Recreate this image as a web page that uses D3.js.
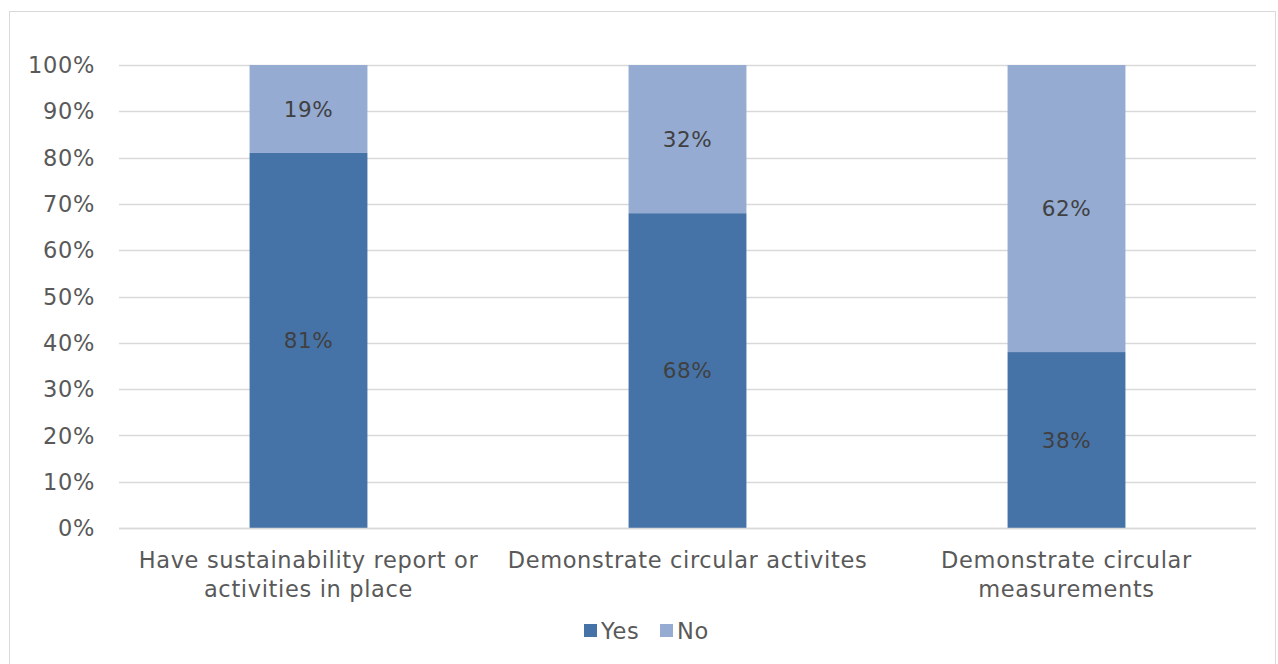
<!DOCTYPE html>
<html><head><meta charset="utf-8">
<script src="https://cdn.jsdelivr.net/npm/d3@7"></script>
<style>body{margin:0;background:#fff;} svg{display:block;}</style>
</head><body>
<svg id="c" width="1278" height="664"></svg>
<script>
const categoryKeys = ["Have sustainability report or activities in place", "Demonstrate circular activites", "Demonstrate circular measurements"];
const categoryLines = [["Have sustainability report or", "activities in place"], ["Demonstrate circular activites"], ["Demonstrate circular", "measurements"]];
const yesValues = [81, 68, 38];
const noValues = [19, 32, 62];
const seriesNames = ["Yes", "No"];
const yTicks = [0, 10, 20, 30, 40, 50, 60, 70, 80, 90, 100];

const colors = {Yes: "#4673a7", No: "#95abd2"};
const textColor = "#595959";
const font = "DejaVu Sans, Verdana, sans-serif";
const ls = "0.65px";

const svg = d3.select("#c");
svg.append("rect").attr("x", 9.5).attr("y", 11.5).attr("width", 1266).attr("height", 660)
  .attr("fill", "#fff").attr("stroke", "#d9d9d9").attr("stroke-width", 1);

const pL = 119, pR = 1256, pT = 65, pB = 528;
const x = d3.scaleBand().domain(categoryKeys).range([pL, pR]).paddingInner(0.689).paddingOuter(0.3445);
const y = d3.scaleLinear().domain([0, 100]).range([pB, pT]);

// gridlines
svg.append("g").selectAll("line").data(yTicks).join("line")
  .attr("x1", pL).attr("x2", pR)
  .attr("y1", d => Math.round(y(d)) + 0.5).attr("y2", d => Math.round(y(d)) + 0.5)
  .attr("stroke", "#d9d9d9").attr("stroke-width", 1.5);

// y axis
const yAxis = d3.axisLeft(y).tickValues(yTicks).tickFormat(d => d + "%").tickSize(0).tickPadding(24);
const ya = svg.append("g").attr("transform", `translate(${pL},0)`).call(yAxis);
ya.select(".domain").remove();
ya.selectAll("text").attr("fill", textColor).attr("font-family", font).attr("font-size", 22.5)
  .attr("letter-spacing", ls).attr("dy", "0.34em");

const data = categoryKeys.map((k, i) => ({key: k, Yes: yesValues[i], No: noValues[i]}));
const stack = d3.stack().keys(seriesNames)(data);

const g = svg.append("g");
stack.forEach(s => {
  g.append("g").selectAll("rect").data(s).join("rect")
    .attr("x", d => x(d.data.key)).attr("width", x.bandwidth())
    .attr("y", d => y(d[1])).attr("height", d => y(d[0]) - y(d[1]))
    .attr("fill", colors[s.key]);
  g.append("g").selectAll("text").data(s).join("text")
    .attr("x", d => x(d.data.key) + x.bandwidth() / 2)
    .attr("y", d => (y(d[0]) + y(d[1])) / 2)
    .attr("dy", "0.36em").attr("text-anchor", "middle")
    .attr("fill", "#404040").attr("font-family", font).attr("font-size", 21.5)
    .attr("letter-spacing", ls)
    .text(d => (d[1] - d[0]) + "%");
});

// x axis line
svg.append("line").attr("x1", pL).attr("x2", pR).attr("y1", pB + 0.5).attr("y2", pB + 0.5)
  .attr("stroke", "#d9d9d9").attr("stroke-width", 1.5);

// x labels
categoryKeys.forEach((k, i) => {
  const t = svg.append("text").attr("x", x(k) + x.bandwidth() / 2).attr("y", 568)
    .attr("text-anchor", "middle").attr("fill", textColor).attr("font-family", font).attr("font-size", 22.5)
    .attr("letter-spacing", ls);
  categoryLines[i].forEach((line, j) => {
    t.append("tspan").attr("x", x(k) + x.bandwidth() / 2).attr("dy", j === 0 ? 0 : 29).text(line);
  });
});

// legend
const lg = svg.append("g");
const legendItems = [{name: "Yes", x: 584}, {name: "No", x: 660}];
legendItems.forEach(it => {
  lg.append("rect").attr("x", it.x).attr("y", 624).attr("width", 13).attr("height", 13).attr("fill", colors[it.name]);
  lg.append("text").attr("x", it.x + 17).attr("y", 639).attr("fill", textColor)
    .attr("font-family", font).attr("font-size", 22.5).attr("letter-spacing", ls).text(it.name);
});
</script>
</body></html>
